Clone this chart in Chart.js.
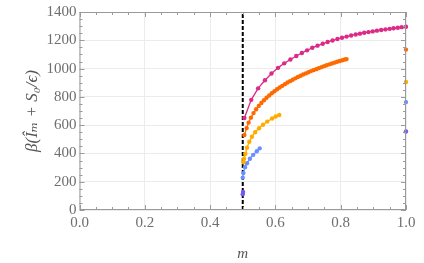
<!DOCTYPE html>
<html>
<head>
<meta charset="utf-8">
<script src="https://cdn.jsdelivr.net/npm/chart.js@4"></script>
<style>
  html, body { margin: 0; padding: 0; background: #fff; }
  #wrap { width: 424px; height: 263px; }
</style>
</head>
<body>
<div id="wrap"><canvas id="chart"></canvas></div>
<script>
// Data
const mMag = [0.505, 0.526, 0.547, 0.568, 0.588, 0.608, 0.627, 0.646, 0.664, 0.681, 0.697, 0.713, 0.729, 0.745, 0.760, 0.775, 0.790, 0.804, 0.818, 0.832, 0.846, 0.859, 0.872, 0.885, 0.898, 0.911, 0.924, 0.937, 0.950, 0.962, 0.975, 0.987, 1.0];
const yMag = [651, 779, 860, 917, 965, 1005, 1037, 1064, 1089, 1110, 1129, 1147, 1162, 1175, 1188, 1199, 1209, 1218, 1226, 1234, 1241, 1247, 1253, 1258, 1263, 1268, 1273, 1277, 1281, 1285, 1289, 1293, 1296];

const mOra = [0.505, 0.512, 0.518, 0.525, 0.533, 0.541, 0.549, 0.557, 0.565, 0.573, 0.581, 0.589, 0.597, 0.605, 0.613, 0.621, 0.629, 0.637, 0.645, 0.653, 0.661, 0.669, 0.677, 0.685, 0.693, 0.701, 0.709, 0.717, 0.725, 0.733, 0.741, 0.749, 0.757, 0.765, 0.773, 0.781, 0.789, 0.797, 0.805, 0.813, 0.818];
const yOra = [530, 579, 618, 653, 685, 712, 736, 757, 776, 794, 810, 826, 840, 854, 866, 878, 890, 901, 911, 921, 931, 940, 949, 958, 966, 974, 982, 989, 996, 1003, 1010, 1017, 1023, 1030, 1036, 1042, 1048, 1054, 1059, 1064, 1067];

const mYel = [0.502, 0.504, 0.508, 0.513, 0.520, 0.528, 0.538, 0.550, 0.562, 0.575, 0.590, 0.601, 0.612];
const yYel = [338, 362, 397, 440, 483, 518, 550, 578, 603, 625, 647, 661, 672];

const mBlu = [0.500, 0.502, 0.507, 0.513, 0.522, 0.532, 0.543, 0.552];
const yBlu = [229, 261, 303, 331, 362, 390, 415, 436];

const mPur = [0.500, 0.501];
const yPur = [112, 128];

// isolated values at m = 1 (orange, yellow, blue, purple)
const edgeM = 1.0;
const edgeY = [1134, 905, 763, 555];

const mCrit = 0.5;

const xTicks = [0, 0.2, 0.4, 0.6, 0.8, 1.0];
const yTicks = [0, 200, 400, 600, 800, 1000, 1200, 1400];

// colours
const cMag = '#dc2a86';
const cOra = '#ff6a00';
const cYel = '#ffac00';
const cBlu = '#6c8fff';
const cPur = '#7558f0';

const pts = (xs, ys) => xs.map((x, i) => ({ x: x, y: ys[i] }));

function series(xs, ys, col, r) {
	return {
		data: pts(xs, ys),
		showLine: true,
		borderColor: col,
		backgroundColor: col,
		borderWidth: 1.3,
		pointRadius: r,
		pointBorderWidth: 0,
		clip: false,
		order: 1
	};
}

function edge(y, col) {
	return {
		data: [{ x: edgeM, y: y }],
		showLine: false,
		backgroundColor: col,
		borderColor: col,
		pointRadius: 2.2,
		pointBorderWidth: 0,
		clip: false,
		order: 1
	};
}

// frame + inward ticks, mathematica style
const framePlugin = {
	id: 'frame',
	afterDatasetsDraw(chart) {
		const { ctx, chartArea: a, scales } = chart;
		ctx.save();
		ctx.strokeStyle = '#9a9a9a';
		ctx.lineWidth = 1;
		ctx.strokeRect(a.left + 0.5, a.top + 0.5, a.right - a.left - 1, a.bottom - a.top - 1);
		ctx.beginPath();
		for (let i = 0; i <= 20; i++) {
			const px = Math.round(scales.x.getPixelForValue(i * 0.05)) + 0.5;
			const len = i % 4 === 0 ? 5 : 3;
			ctx.moveTo(px, a.bottom); ctx.lineTo(px, a.bottom - len);
			ctx.moveTo(px, a.top); ctx.lineTo(px, a.top + len);
		}
		for (let i = 0; i <= 28; i++) {
			const py = Math.round(scales.y.getPixelForValue(i * 50)) + 0.5;
			const len = i % 4 === 0 ? 5 : 3;
			ctx.moveTo(a.left, py); ctx.lineTo(a.left + len, py);
			ctx.moveTo(a.right, py); ctx.lineTo(a.right - len, py);
		}
		ctx.stroke();
		ctx.restore();
	}
};

const tickFont = { family: "'Liberation Serif', 'DejaVu Serif', serif", size: 15 };

new Chart(document.getElementById('chart'), {
	type: 'scatter',
	data: {
		datasets: [
			series(mMag, yMag, cMag, 2.2),
			series(mOra, yOra, cOra, 2.2),
			series(mYel, yYel, cYel, 2.2),
			series(mBlu, yBlu, cBlu, 2.2),
			series(mPur, yPur, cPur, 2.2),
			edge(edgeY[0], cOra),
			edge(edgeY[1], cYel),
			edge(edgeY[2], cBlu),
			edge(edgeY[3], cPur),
			{
				// critical m, dashed
				data: [{ x: mCrit, y: 0 }, { x: mCrit, y: 1400 }],
				showLine: true,
				borderColor: '#000',
				borderWidth: 2,
				borderDash: [4, 2],
				pointRadius: 0,
				order: 10
			}
		]
	},
	options: {
		responsive: true,
		maintainAspectRatio: false,
		animation: false,
		layout: { padding: { left: 0, right: 18, top: 10, bottom: 0 } },
		plugins: { legend: { display: false }, tooltip: { enabled: false } },
		scales: {
			x: {
				type: 'linear',
				min: 0, max: 1,
				afterBuildTicks: s => { s.ticks = xTicks.map(v => ({ value: v })); },
				ticks: {
					color: '#6e6e6e',
					font: tickFont,
					padding: 4,
					maxRotation: 0,
					callback: v => v.toFixed(1)
				},
				grid: { color: '#ececec', drawTicks: false },
				border: { display: false },
				title: {
					display: true,
					text: 'm',
					color: '#555',
					font: { family: "'Liberation Serif', serif", size: 15, style: 'italic' },
					padding: { top: 8, bottom: 0 }
				},
				afterFit: s => { s.height = 53; }
			},
			y: {
				type: 'linear',
				min: 0, max: 1400,
				afterBuildTicks: s => { s.ticks = yTicks.map(v => ({ value: v })); },
				ticks: {
					color: '#6e6e6e',
					font: tickFont,
					padding: 3,
					callback: v => String(v)
				},
				grid: { color: '#ececec', drawTicks: false },
				border: { display: false },
				title: {
					display: true,
					text: 'β(Îₘ + S₀/ϵ)',
					color: '#555',
					font: { family: "'Liberation Serif', 'DejaVu Serif', serif", size: 17, style: 'italic' },
					padding: { top: 22, bottom: 2 }
				},
				afterFit: s => { s.width = 79.5; }
			}
		}
	},
	plugins: [framePlugin]
});
</script>
</body>
</html>
